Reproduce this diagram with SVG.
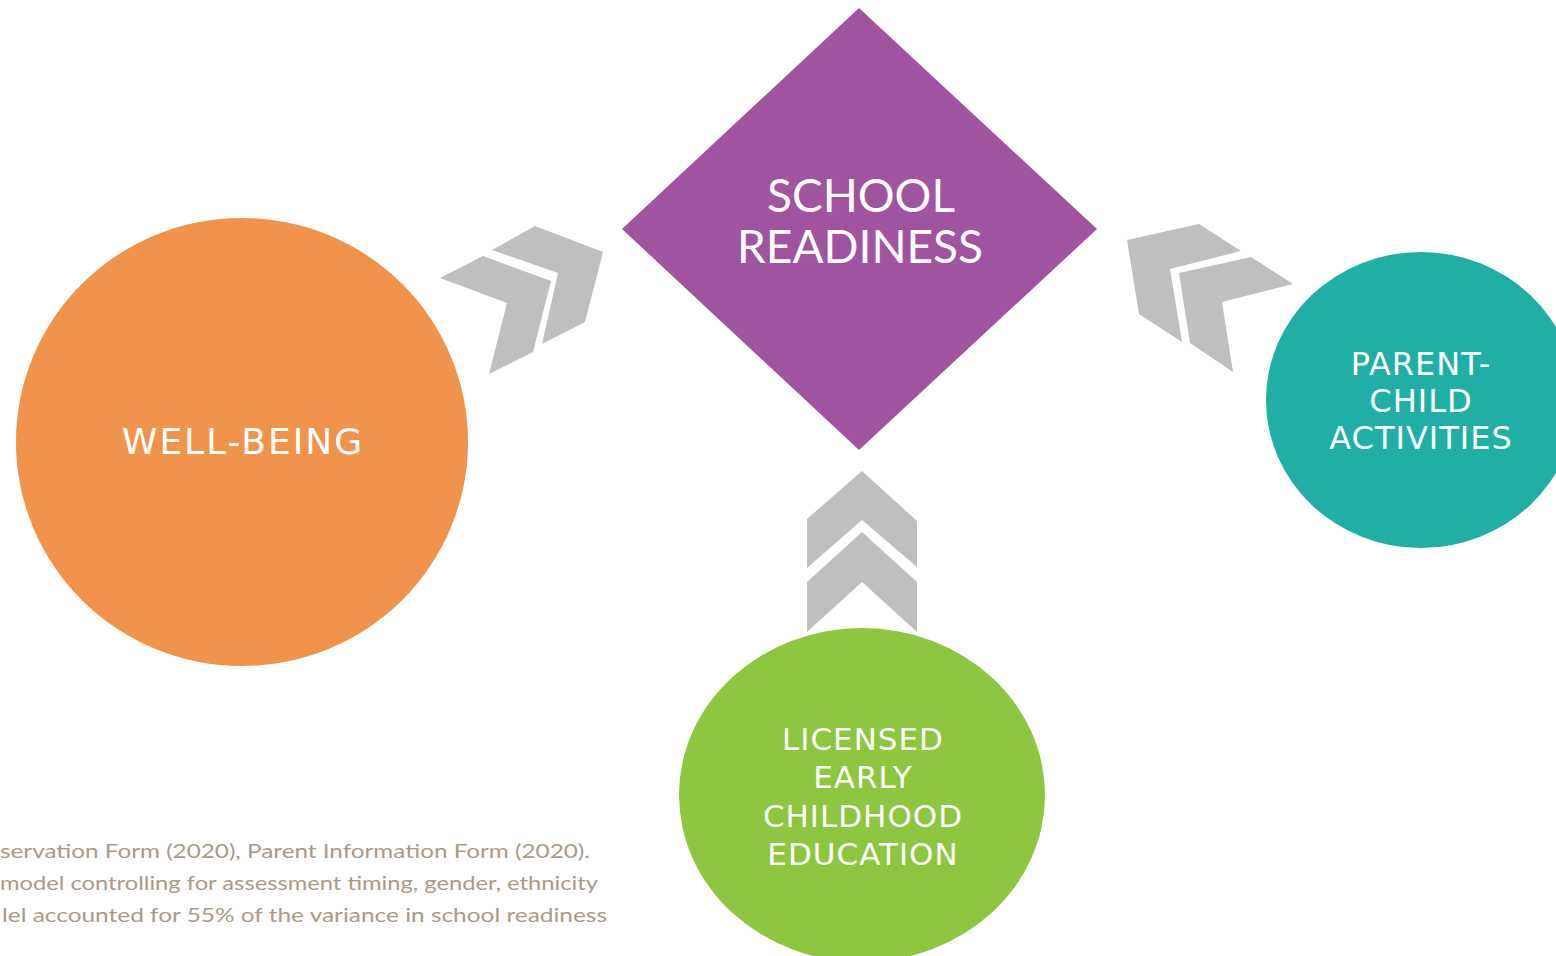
<svg xmlns="http://www.w3.org/2000/svg" width="1556" height="956" viewBox="0 0 1556 956">
  <style>
    .chev { fill: #BFBFBF; }
    .lbl { fill: #FFFFFF; font-family: "DejaVu Sans", Verdana, sans-serif; text-anchor: middle; letter-spacing: 1px; }
    .title { fill: #FFFFFF; font-family: "Lato", "Open Sans", sans-serif; text-anchor: middle; font-size: 46px; }
    .note { fill: #A89A88; font-family: "Lato", "Liberation Sans", sans-serif; font-size: 20px; }
  </style>
  <rect width="1556" height="956" fill="#FFFFFF"/>

  <!-- connectors: double chevrons pointing toward the central diamond -->
  <g id="connectors">
    <polygon class="chev" points="492,250 535,226 603,252 585,322 542,344 558,273"/>
    <polygon class="chev" points="440,278 483,256 551,281 533,352 489,374 507,303"/>
    <polygon class="chev" points="1127,240 1199,224 1241,251 1170,269 1182,342 1139,314"/>
    <polygon class="chev" points="1179,273 1251,257 1293,284 1222,302 1233,372 1190,343"/>
    <polygon class="chev" points="807,519 862,471 917,521 917,567 862,520 807,568"/>
    <polygon class="chev" points="807,582 862,532 917,582 917,632 862,582 807,632"/>
  </g>

  <g id="school-readiness">
    <polygon points="859,8 1097,229 859,450 622,229" fill="#A0539F"/>
    <text class="title" x="861" y="212">SCHOOL</text>
    <text class="title" x="860" y="263">READINESS</text>
  </g>

  <g id="well-being">
    <ellipse cx="242" cy="442" rx="226" ry="224" fill="#F2934B"/>
    <text class="lbl" x="243" y="454" font-size="36" style="letter-spacing:2px">WELL-BEING</text>
  </g>

  <g id="parent-child-activities">
    <ellipse cx="1421" cy="400" rx="155" ry="148" fill="#20AFA6"/>
    <text class="lbl" x="1421" y="375" font-size="32">PARENT-</text>
    <text class="lbl" x="1421" y="412" font-size="32">CHILD</text>
    <text class="lbl" x="1421" y="449" font-size="32">ACTIVITIES</text>
  </g>

  <g id="licensed-ece">
    <ellipse cx="862" cy="795" rx="183" ry="167" fill="#8DC63F"/>
    <text class="lbl" x="863" y="750" font-size="31">LICENSED</text>
    <text class="lbl" x="863" y="788" font-size="31">EARLY</text>
    <text class="lbl" x="863" y="827" font-size="31">CHILDHOOD</text>
    <text class="lbl" x="863" y="865" font-size="31">EDUCATION</text>
  </g>

  <g id="notes">
    <text class="note" x="0" y="858" textLength="590" lengthAdjust="spacingAndGlyphs">servation Form (2020), Parent Information Form (2020).</text>
    <text class="note" x="0" y="890" textLength="598" lengthAdjust="spacingAndGlyphs">model controlling for assessment timing, gender, ethnicity</text>
    <text class="note" x="2" y="922" textLength="605" lengthAdjust="spacingAndGlyphs">lel accounted for 55% of the variance in school readiness</text>
  </g>
</svg>
